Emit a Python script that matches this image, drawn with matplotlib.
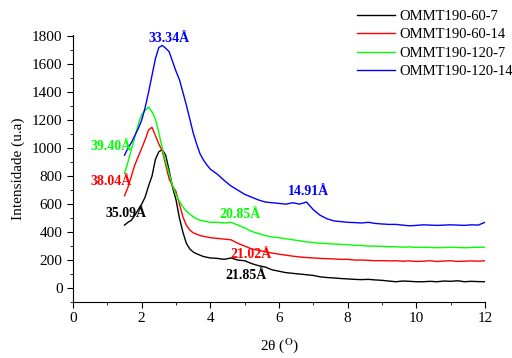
import matplotlib
matplotlib.use("Agg")
import matplotlib.pyplot as plt
from matplotlib.ticker import MultipleLocator

plt.rcParams['font.family'] = ['Liberation Serif', 'DejaVu Serif']
plt.rcParams['mathtext.fontset'] = 'stix'

# 2theta grid (degrees)
two_theta = [1.5, 1.6, 1.7, 1.8, 1.9, 2.0, 2.1, 2.2, 2.3, 2.4, 2.5, 2.6, 2.7,
             2.8, 2.9, 3.0, 3.1, 3.2, 3.3, 3.4, 3.5, 3.6, 3.7, 3.8, 3.9, 4.0,
             4.2, 4.4, 4.6, 4.8, 5.0, 5.2, 5.4, 5.6, 5.8, 6.0, 6.2, 6.4, 6.6,
             6.8, 7.0, 7.2, 7.4, 7.6, 7.8, 8.0, 8.2, 8.4, 8.6, 8.8, 9.0, 9.2,
             9.4, 9.6, 9.8, 10.0, 10.2, 10.4, 10.6, 10.8, 11.0, 11.2, 11.4,
             11.6, 11.8, 12.0]

ommt_60_7 = [450, 470, 485, 520, 560, 600, 650, 730, 800, 920, 975, 990, 950,
             840, 720, 630, 500, 400, 320, 280, 258, 245, 235, 225, 220, 215,
             212, 205, 215, 200, 195, 175, 160, 150, 130, 120, 110, 105, 100,
             95, 90, 80, 75, 72, 68, 65, 62, 60, 62, 58, 55, 50,
             45, 50, 48, 45, 45, 48, 45, 50, 48, 52, 45,
             48, 46, 45]

ommt_60_14 = [660, 720, 800, 880, 940, 1000, 1060, 1130, 1150, 1090, 1030, 980, 880,
              780, 730, 690, 600, 510, 450, 415, 395, 385, 375, 370, 365, 360,
              355, 350, 345, 320, 300, 280, 270, 260, 250, 242, 235, 228, 222,
              218, 215, 212, 210, 208, 205, 205, 200, 200, 198, 195, 196, 194,
              195, 192, 194, 190, 192, 195, 190, 193, 195, 190, 192,
              194, 192, 195]

ommt_120_7 = [820, 900, 990, 1080, 1170, 1240, 1270, 1295, 1260, 1210, 1110, 1000, 900,
              820, 730, 670, 620, 580, 550, 530, 510, 495, 485, 480, 475, 470,
              470, 465, 470, 450, 430, 405, 390, 375, 365, 360, 352, 345, 338,
              330, 325, 320, 318, 315, 312, 310, 305, 305, 300, 300, 298, 296,
              295, 292, 294, 290, 292, 290, 288, 290, 292, 290, 288,
              290, 292, 290]

ommt_120_14 = [950, 1000, 1040, 1090, 1140, 1200, 1290, 1400, 1520, 1640, 1720, 1735, 1715,
               1690, 1620, 1550, 1490, 1400, 1310, 1210, 1110, 1030, 960, 915, 880, 850,
               815, 770, 730, 700, 670, 650, 630, 615, 610, 605, 600, 610, 600,
               615, 560, 520, 495, 480, 475, 470, 468, 465, 470, 462, 458, 455,
               455, 450, 445, 448, 452, 450, 448, 450, 452, 450, 448,
               452, 450, 470]

labels = ["OMMT190-60-7", "OMMT190-60-14", "OMMT190-120-7", "OMMT190-120-14"]
colors = ["black", "red", "#00ff00", "blue"]

# d-spacing labels: text, x, y, colour index
peak_text = ["33.34Å", "39.40Å", "38.04Å", "35.09Å", "20.85Å", "21.02Å", "21.85Å", "14.91Å"]
peak_x = [2.81, 1.10, 1.12, 1.53, 4.85, 5.17, 5.05, 6.85]
peak_y = [1783, 1011, 761, 536, 523, 237, 88, 690]
peak_c = [3, 2, 1, 0, 2, 1, 0, 3]

fig = plt.figure(figsize=(5.12, 3.58), dpi=100)
ax = fig.add_axes([0.1426, 0.1564, 0.8047, 0.746])

series = [ommt_60_7, ommt_60_14, ommt_120_7, ommt_120_14]
for ys, lab, c in zip(series, labels, colors):
    ax.plot(two_theta, ys, color=c, lw=1.0, label=lab)

for t, x, y, ci in zip(peak_text, peak_x, peak_y, peak_c):
    ax.text(x, y, t, color=colors[ci], fontsize=10, fontweight='bold',
            ha='center', va='center')

ax.set_xlim(0, 12)
ax.set_ylim(-100, 1810)
ax.xaxis.set_major_locator(MultipleLocator(2))
ax.xaxis.set_minor_locator(MultipleLocator(1))
ax.yaxis.set_major_locator(MultipleLocator(200))
ax.yaxis.set_minor_locator(MultipleLocator(100))
ax.tick_params(which='major', direction='out', length=4, labelsize=11)
ax.tick_params(which='minor', direction='out', length=2)
ax.spines['top'].set_visible(False)
ax.spines['right'].set_visible(False)

ax.set_xlabel("2θ ($^{\\rm O}$)", fontsize=11, labelpad=8)
ax.set_ylabel("Intensidade (u.a)", fontsize=11, labelpad=5)

fig.legend(loc='upper right', bbox_to_anchor=(1.018, 0.997), frameon=False,
           fontsize=10.5, handlelength=2.6, handletextpad=0.3,
           labelspacing=0.35, borderaxespad=0.2)

fig.savefig("out.png", dpi=100)
